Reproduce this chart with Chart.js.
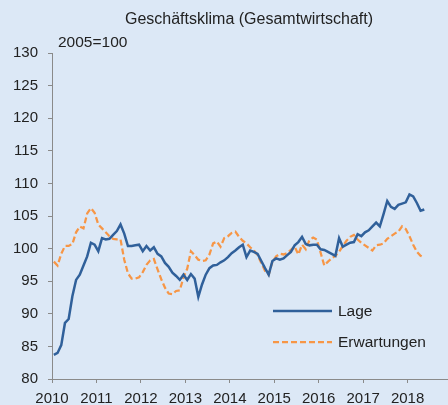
<!DOCTYPE html>
<html>
<head>
<meta charset="utf-8">
<script src="https://cdn.jsdelivr.net/npm/chart.js@4/dist/chart.umd.min.js"></script>
<style>
  html, body { margin: 0; padding: 0; background: #dce8f6; }
  canvas { display: block; }
</style>
</head>
<body>
<canvas id="chart" width="448" height="405"></canvas>
<script>
const title = "Geschäftsklima (Gesamtwirtschaft)";
const unitNote = "2005=100";
const years = ["2010", "2011", "2012", "2013", "2014", "2015", "2016", "2017", "2018"];
const seriesNames = ["Lage", "Erwartungen"];

// monthly values, Jan 2010 .. May 2018
const lage = [
  83.7, 84.0, 85.2, 88.6, 89.2, 92.7, 95.2, 96.0, 97.4, 98.8, 100.9, 100.6,
  99.6, 101.6, 101.4, 101.5, 102.1, 102.7, 103.7, 102.3, 100.4, 100.4, 100.5, 100.6,
  99.6, 100.4, 99.7, 100.2, 99.2, 98.8, 97.8, 97.2, 96.3, 95.8, 95.2, 96.0,
  95.2, 96.1, 95.4, 92.6, 94.5, 96.0, 97.0, 97.4, 97.5, 97.9, 98.2, 98.7,
  99.3, 99.7, 100.2, 100.6, 98.7, 99.7, 99.5, 99.2, 98.1, 97.0, 96.0, 98.1,
  98.5, 98.3, 98.5, 99.0, 99.5, 100.5, 101.0, 101.8, 100.7, 100.5, 100.6, 100.6,
  99.9, 99.8, 99.5, 99.2, 98.9, 101.6, 100.3, 100.6, 100.9, 101.0, 102.2, 101.9,
  102.5, 102.8, 103.4, 104.0, 103.4, 105.3, 107.3, 106.4, 106.1, 106.7, 106.9, 107.1,
  108.3, 108.0, 107.0, 105.8, 106.0
];
const erwartungen = [
  98.0, 97.4, 99.2, 100.4, 100.4, 100.7, 102.5, 103.4, 103.1, 105.4, 106.2, 105.5,
  103.7, 103.1, 102.5, 101.9, 101.5, 101.4, 101.4, 98.3, 96.2, 95.4, 95.4, 95.6,
  96.4, 97.5, 98.2, 98.4, 96.8, 95.3, 94.0, 93.1, 93.0, 93.5, 93.6, 95.6,
  96.9, 99.6, 99.0, 98.3, 98.1, 98.2, 99.1, 100.8, 101.1, 100.3, 101.6, 101.9,
  102.4, 102.6, 101.8, 101.2, 100.8, 100.2, 99.7, 99.0, 97.8, 96.6, 96.0, 98.0,
  98.8, 99.2, 99.1, 99.3, 99.8, 100.3, 99.1, 100.6, 99.9, 101.3, 101.7, 101.4,
  99.4, 97.4, 98.0, 98.5, 98.9, 99.5, 100.4, 101.2, 101.8, 102.1, 101.4, 100.9,
  100.5, 100.1, 99.7, 100.5, 100.6, 100.8, 101.5, 101.9, 102.3, 102.6, 103.4, 103.0,
  101.9, 100.6, 99.5, 98.9, 98.6
];

const font = "'Liberation Sans', Arial, sans-serif";
const textColor = "#222";
const axisColor = "#8a8a8a";

// month i is drawn in the middle of its month slot
const toPoints = (arr) => arr.map((v, i) => ({ x: i + 0.5, y: v }));

const overlay = {
  id: "overlay",
  afterDraw(chart) {
    const ctx = chart.ctx;
    ctx.save();
    ctx.fillStyle = textColor;
    ctx.textBaseline = "middle";
    ctx.font = "16px " + font;
    ctx.textAlign = "center";
    ctx.fillText(title, 249, 20);
    ctx.font = "15.5px " + font;
    ctx.textAlign = "left";
    ctx.fillText(unitNote, 58, 43);
    // legend inside the plot
    chart.data.datasets.forEach((ds, i) => {
      const y = 311 + i * 31;
      ctx.beginPath();
      ctx.strokeStyle = ds.borderColor;
      ctx.lineWidth = ds.borderWidth;
      ctx.setLineDash(ds.borderDash || []);
      ctx.moveTo(273, y);
      ctx.lineTo(332, y);
      ctx.stroke();
      ctx.setLineDash([]);
      ctx.fillText(ds.label, 338, y + 1);
    });
    ctx.restore();
  }
};

new Chart(document.getElementById("chart").getContext("2d"), {
  type: "line",
  data: {
    datasets: [
      {
        label: seriesNames[0],
        data: toPoints(lage),
        borderColor: "#30609a",
        borderWidth: 2.5,
        pointRadius: 0,
        tension: 0
      },
      {
        label: seriesNames[1],
        data: toPoints(erwartungen),
        borderColor: "#f79646",
        borderWidth: 2.25,
        borderDash: [6, 3],
        pointRadius: 0,
        tension: 0
      }
    ]
  },
  options: {
    responsive: false,
    animation: false,
    layout: { padding: { top: 53, left: 0, right: 0, bottom: 0 } },
    plugins: { legend: { display: false }, title: { display: false }, tooltip: { enabled: false } },
    scales: {
      x: {
        type: "linear",
        min: 0,
        max: 106.9,
        afterFit: (s) => { s.height = 26; },
        border: { color: axisColor, width: 1 },
        grid: { drawOnChartArea: false, drawTicks: true, tickLength: 4, color: axisColor },
        ticks: {
          stepSize: 12,
          includeBounds: false,
          autoSkip: false,
          maxRotation: 0,
          padding: 7,
          color: textColor,
          font: { family: font, size: 15 },
          callback: (v) => years[v / 12]
        }
      },
      y: {
        min: 80,
        max: 130,
        afterFit: (s) => { s.width = 52; },
        border: { color: axisColor, width: 1 },
        grid: { drawOnChartArea: false, drawTicks: true, tickLength: 4, color: axisColor },
        ticks: {
          stepSize: 5,
          padding: 10,
          color: textColor,
          font: { family: font, size: 15 }
        }
      }
    }
  },
  plugins: [overlay]
});
</script>
</body>
</html>
